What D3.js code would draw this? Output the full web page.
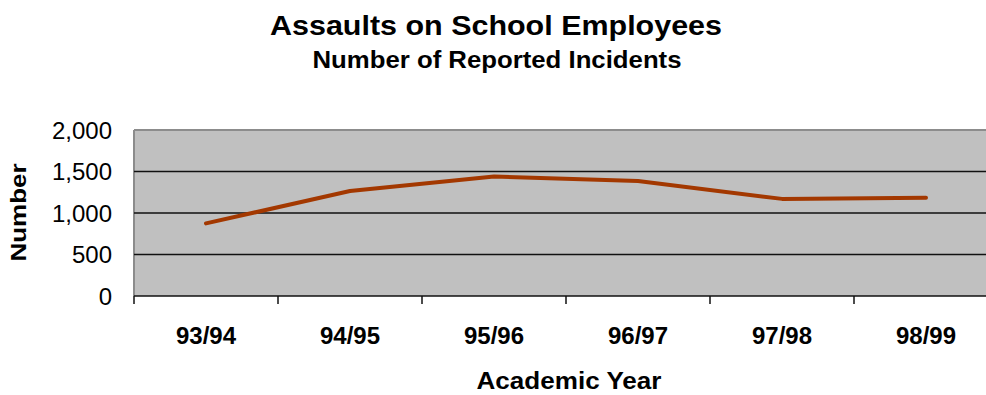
<!DOCTYPE html>
<html>
<head>
<meta charset="utf-8">
<script src="https://cdn.jsdelivr.net/npm/d3@7"></script>
<style>
  html, body { margin: 0; padding: 0; background: #fff; }
  svg { display: block; font-family: "Liberation Sans", Arial, sans-serif; }
</style>
</head>
<body>
<svg id="chart" width="986" height="395"></svg>
<script>
// Academic years and reported assault counts
const years = ["93/94", "94/95", "95/96", "96/97", "97/98", "98/99"];
const incidents = [875, 1265, 1440, 1385, 1170, 1185];
const yTicks = [0, 500, 1000, 1500, 2000];

const svg = d3.select("#chart");
const plot = { left: 134, right: 998, top: 130, bottom: 296 };

const x = d3.scaleBand().domain(years).range([plot.left, plot.right]).padding(0);
const y = d3.scaleLinear().domain([0, 2000]).range([plot.bottom, plot.top]);

// Plot background
svg.append("rect")
  .attr("x", plot.left).attr("y", plot.top)
  .attr("width", plot.right - plot.left).attr("height", plot.bottom - plot.top)
  .attr("fill", "#c0c0c0");

// Frame: grey top and left edges
svg.append("line").attr("x1", plot.left).attr("x2", plot.right)
  .attr("y1", plot.top).attr("y2", plot.top)
  .attr("stroke", "#8c8c8c").attr("stroke-width", 2);
svg.append("line").attr("x1", plot.left).attr("x2", plot.left)
  .attr("y1", plot.top).attr("y2", plot.bottom)
  .attr("stroke", "#8c8c8c").attr("stroke-width", 2);

// Horizontal gridlines
svg.append("g").selectAll("line")
  .data(yTicks.filter(d => d > 0 && d < 2000))
  .join("line")
  .attr("x1", plot.left).attr("x2", plot.right)
  .attr("y1", d => y(d)).attr("y2", d => y(d))
  .attr("stroke", "#111").attr("stroke-width", 1.5);

// Y axis labels
svg.append("g").selectAll("text")
  .data(yTicks)
  .join("text")
  .attr("x", 112).attr("y", d => y(d))
  .attr("dy", "0.36em")
  .attr("text-anchor", "end")
  .attr("font-size", 24)
  .attr("fill", "#000")
  .text(d => d3.format(",")(d));

// X axis with ticks at category boundaries
const xAxis = svg.append("g").attr("transform", `translate(0,${plot.bottom})`);
xAxis.append("line").attr("x1", plot.left).attr("x2", plot.right)
  .attr("y1", 0).attr("y2", 0).attr("stroke", "#111").attr("stroke-width", 1.5);
xAxis.selectAll("line.tick")
  .data(years)
  .join("line")
  .attr("class", "tick")
  .attr("x1", d => x(d)).attr("x2", d => x(d))
  .attr("y1", 0).attr("y2", 8)
  .attr("stroke", "#111").attr("stroke-width", 1.5);
xAxis.selectAll("text")
  .data(years)
  .join("text")
  .attr("x", d => x(d) + x.bandwidth() / 2)
  .attr("y", 48)
  .attr("text-anchor", "middle")
  .attr("font-size", 24)
  .attr("font-weight", "bold")
  .text(d => d);

// Data line
const line = d3.line()
  .x((d, i) => x(years[i]) + x.bandwidth() / 2)
  .y(d => y(d));
svg.append("path")
  .datum(incidents)
  .attr("d", line)
  .attr("fill", "none")
  .attr("stroke", "#a33800")
  .attr("stroke-width", 4)
  .attr("stroke-linejoin", "round")
  .attr("stroke-linecap", "round");

// Titles (wide bold face: glyphs spread to the set lengths)
function label(x0, y0, size, len, txt, rotate) {
  const t = svg.append("text")
    .attr("text-anchor", "middle").attr("font-size", size).attr("font-weight", "bold")
    .attr("textLength", len).attr("lengthAdjust", "spacingAndGlyphs")
    .text(txt);
  if (rotate) t.attr("transform", `translate(${x0},${y0}) rotate(-90)`);
  else t.attr("x", x0).attr("y", y0);
  return t;
}
label(496, 35, 28, 452, "Assaults on School Employees");
label(497, 68, 23, 369, "Number of Reported Incidents");
label(569, 389, 23, 185, "Academic Year");
label(26, 212.5, 22, 98, "Number", true);
</script>
</body>
</html>
